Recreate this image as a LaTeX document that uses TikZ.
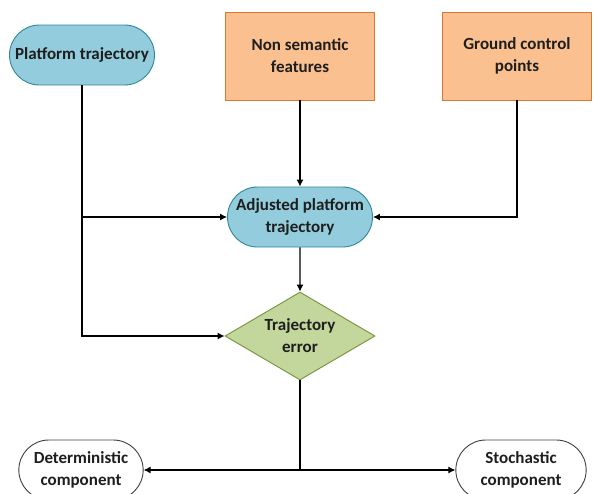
\documentclass[tikz,border=0pt]{standalone}
\usepackage{fontspec}
\setmainfont{Carlito}
\usetikzlibrary{shapes.misc,shapes.geometric,arrows.meta}

\definecolor{pillblue}{RGB}{147,205,221}
\definecolor{pillline}{RGB}{49,133,155}
\definecolor{boxpeach}{RGB}{250,192,144}
\definecolor{boxline}{RGB}{218,120,50}
\definecolor{errgreen}{RGB}{195,214,155}
\definecolor{errline}{RGB}{118,146,60}
\definecolor{txt}{RGB}{30,30,30}

\tikzset{
  base/.style={align=center,text=txt,font=\fontsize{17}{22}\selectfont\bfseries,line width=0.9pt},
  pill/.style={base,rounded rectangle,draw=pillline,fill=pillblue,minimum height=60pt},
  inbox/.style={base,rectangle,draw=boxline,fill=boxpeach,minimum width=149pt,minimum height=88pt},
  check/.style={base,diamond,draw=errline,fill=errgreen,inner sep=-7pt,minimum width=150pt,minimum height=88pt},
  outpill/.style={base,rounded rectangle,draw=black!75,fill=white,minimum height=60pt},
  arr/.style={line width=1.1pt,-{Latex[length=7pt,width=7pt]}}
}

\begin{document}
\begin{tikzpicture}[x=1pt,y=1pt]
\useasboundingbox (0,0) rectangle (597,-493);

\node[pill,minimum width=149pt,inner xsep=2pt] (pt) at (82,-55) {Platform trajectory};
\node[inbox] (nsf) at (300,-56) {Non semantic\\features};
\node[inbox] (gcp) at (517,-56) {Ground control\\points};

\node[pill,minimum width=149pt,inner xsep=2pt] (apt) at (300,-217) {Adjusted platform\\trajectory};
\node[check] (err) at (300,-336) {Trajectory\\error};

\node[outpill,minimum width=131pt] (det) at (81,-470) {Deterministic\\component};
\node[outpill,minimum width=137pt] (sto) at (521,-470) {Stochastic\\component};

\draw[arr] (nsf) -- (apt);
\draw[arr] (gcp.south) |- (apt.east);
\draw[arr] (pt.south) |- (err.west);
\draw[arr] (pt.south |- apt.west) -- (apt.west);
\draw[arr] (apt) -- (err);

\draw[line width=1.1pt] (err.south) -- (err.south |- det.east) coordinate (split);
\draw[arr] (split) -- (det.east);
\draw[arr] (split) -- (sto.west);
\end{tikzpicture}
\end{document}
